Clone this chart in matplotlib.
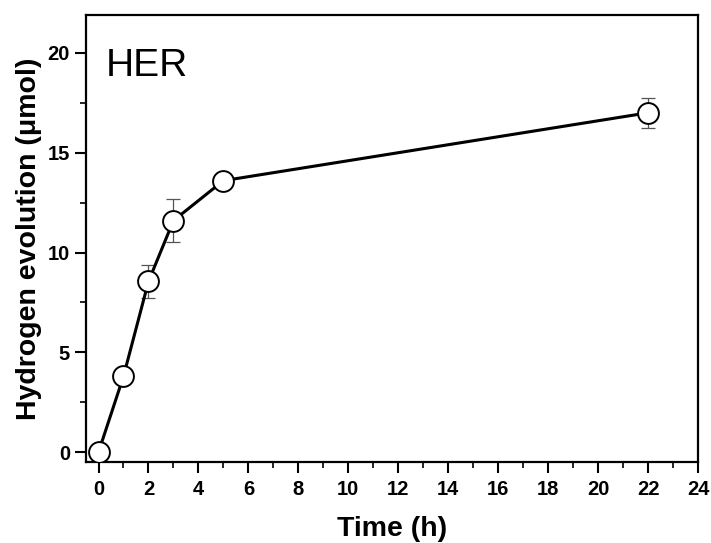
import matplotlib
matplotlib.use("Agg")
import matplotlib.pyplot as plt
from matplotlib.ticker import MultipleLocator

# Hydrogen evolution over time
time_h = [0, 1, 2, 3, 5, 22]
h2_umol = [0.0, 3.8, 8.55, 11.6, 13.6, 17.0]
h2_err = [0.0, 0.2, 0.84, 1.07, 0.2, 0.74]

plt.rcParams["font.family"] = ["Liberation Sans", "DejaVu Sans"]

fig = plt.figure(figsize=(7.11, 5.43), dpi=100)
ax = fig.add_axes([0.121, 0.149, 0.8607, 0.8234])

ax.errorbar(time_h, h2_umol, yerr=h2_err, fmt="none", ecolor="#555555",
            elinewidth=0.9, capsize=5, capthick=0.9, zorder=2)
ax.plot(time_h, h2_umol, color="black", linewidth=2.2, zorder=3)
ax.plot(time_h, h2_umol, linestyle="none", marker="o", markersize=15,
        markerfacecolor="white", markeredgecolor="black",
        markeredgewidth=1.4, zorder=4)

ax.set_xlim(-0.5, 24)
ax.set_ylim(-0.5, 21.9)
ax.xaxis.set_major_locator(MultipleLocator(2))
ax.xaxis.set_minor_locator(MultipleLocator(1))
ax.yaxis.set_major_locator(MultipleLocator(5))
ax.yaxis.set_minor_locator(MultipleLocator(2.5))

for s in ax.spines.values():
    s.set_linewidth(1.6)
ax.tick_params(which="major", direction="out", length=8, width=1.5,
               labelsize=14.5)
ax.tick_params(axis="x", which="major", pad=5)
ax.tick_params(which="minor", direction="out", length=4, width=1.2)
for lab in ax.get_xticklabels() + ax.get_yticklabels():
    lab.set_fontweight("bold")

ax.set_xlabel("Time (h)", fontsize=20.5, fontweight="bold", labelpad=12)
ax.set_ylabel("Hydrogen evolution (\u03bcmol)", fontsize=20.5,
              fontweight="bold", labelpad=4)

ax.text(0.032, 0.8635, "HER", transform=ax.transAxes, fontsize=28,
        ha="left", va="baseline")

fig.savefig("out.png", dpi=100)
